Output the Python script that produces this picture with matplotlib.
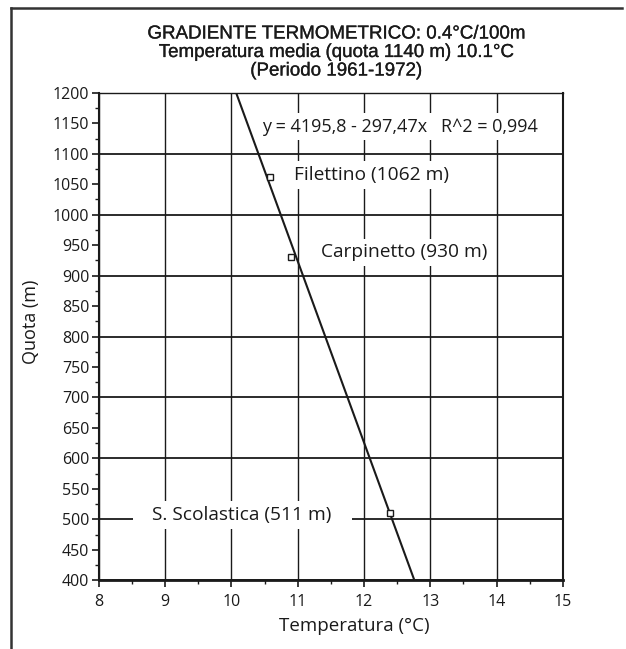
import numpy as np
import matplotlib
matplotlib.use("Agg")
import matplotlib.pyplot as plt
import matplotlib.patheffects as pe
from matplotlib.ticker import MultipleLocator
from matplotlib.lines import Line2D

# Stations: mean temperature (°C) and altitude (m)
stations = ["Filettino (1062 m)", "Carpinetto (930 m)", "S. Scolastica (511 m)"]
temperature = [10.58, 10.90, 12.39]
altitude = [1062, 930, 511]

# Linear regression altitude = intercept + slope * temperature
intercept = 4195.8
slope = -297.47
r_squared = 0.994

title_lines = [
    "GRADIENTE TERMOMETRICO: 0.4°C/100m",
    "Temperatura media (quota 1140 m) 10.1°C",
    "(Periodo 1961-1972)",
]

x_ticks = [8, 9, 10, 11, 12, 13, 14, 15]
y_ticks = list(range(400, 1201, 50))

label_font = ["Open Sans", "DejaVu Sans"]
title_font = ["Liberation Sans", "DejaVu Sans"]
ink = "#1a1a1a"

fig = plt.figure(figsize=(6.26, 6.49), dpi=100)
ax = fig.add_axes([0.158, 0.106, 0.741, 0.751])

ax.set_xlim(8, 15)
ax.set_ylim(400, 1200)

# grid at every 1 °C and every 100 m
for xv in x_ticks:
    ax.axvline(xv, color=ink, lw=1.0, zorder=1)
for yv in range(400, 1201, 100):
    ax.axhline(yv, color=ink, lw=1.3, zorder=1)

# regression line
xs = np.array([8.0, 15.0])
ax.plot(xs, intercept + slope * xs, color=ink, lw=1.5, zorder=4)

# station markers
ax.plot(temperature, altitude, linestyle="none", marker="s", markersize=5,
        markerfacecolor="white", markeredgecolor=ink, markeredgewidth=1.0, zorder=5)

box = dict(boxstyle="square,pad=0.25", facecolor="white", edgecolor="none")

label_pos = [(10.94, 1065), (11.35, 938), (8.58, 507)]
for name, (lx, ly) in zip(stations, label_pos):
    txt = name if not name.startswith("S.") else "   " + name + "   "
    ax.text(lx, ly, txt, fontsize=13.8, family=label_font, color=ink,
            ha="left", va="center", bbox=box, zorder=3)

eq = f"y = {intercept:.1f} - {abs(slope):.2f}x   R^2 = {r_squared:.3f}".replace(".", ",")
ax.text(10.46, 1144, eq, fontsize=13, family=label_font, color=ink,
        ha="left", va="center", bbox=box, zorder=3)

# ticks
ax.set_xticks(x_ticks)
ax.set_yticks(y_ticks)
ax.xaxis.set_minor_locator(MultipleLocator(0.5))
ax.yaxis.set_minor_locator(MultipleLocator(25))
ax.tick_params(axis="both", which="major", direction="out", length=5, width=1.2,
               colors=ink, labelsize=11.5, pad=2)
ax.tick_params(axis="both", which="minor", direction="out", length=3, width=1.0,
               colors=ink)
ax.tick_params(axis="x", which="major", pad=5)
for lab in ax.get_xticklabels() + ax.get_yticklabels():
    lab.set_family(label_font)

for side, lw in [("left", 1.5), ("bottom", 2.0), ("right", 1.5), ("top", 1.0)]:
    ax.spines[side].set_linewidth(lw)
    ax.spines[side].set_color(ink)

ax.set_xlabel("Temperatura (°C)", fontsize=13.5, family=label_font, color=ink)
ax.xaxis.set_label_coords(0.55, -0.075)
ax.set_ylabel("Quota (m)", fontsize=13, family=label_font, color=ink)
ax.yaxis.set_label_coords(-0.127, 0.53)

# three-line title, slightly thickened strokes
heavier = [pe.withStroke(linewidth=0.2, foreground=ink)]
for i, line in enumerate(title_lines):
    fig.text(0.537, 1 - (34 + 18.5 * i) / 649, line, fontsize=13.5,
             family=title_font, color=ink, ha="center", va="center",
             path_effects=heavier)

# page frame: top and left edges
fig.add_artist(Line2D([11 / 626, 622 / 626], [1 - 8 / 649, 1 - 8 / 649],
                      transform=fig.transFigure, color="#333333", lw=1.8))
fig.add_artist(Line2D([11 / 626, 11 / 626], [1 - 8 / 649, 0],
                      transform=fig.transFigure, color="#333333", lw=1.8))

fig.savefig("out.png", dpi=100)
